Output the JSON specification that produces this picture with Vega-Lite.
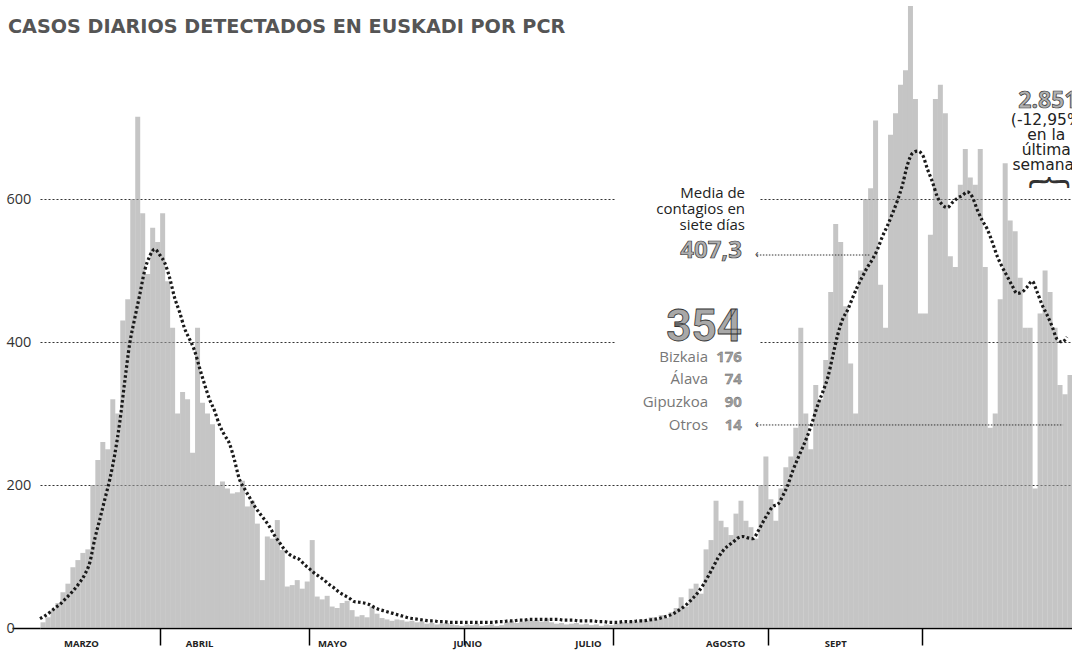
{
  "$schema": "https://vega.github.io/schema/vega-lite/v6.json",
  "width": 1032,
  "height": 622,
  "autosize": {"type": "none"},
  "padding": {"left": 40, "top": 6, "right": 0, "bottom": 24},
  "background": "white",
  "config": {"view": {"stroke": null}},
  "title": {
    "text": "CASOS DIARIOS DETECTADOS EN EUSKADI POR PCR",
    "anchor": "start",
    "frame": "group",
    "orient": "top",
    "offset": 0,
    "dx": -32,
    "dy": 46,
    "baseline": "alphabetic",
    "font": "DejaVu Sans",
    "fontSize": 19.2,
    "fontWeight": "bold",
    "color": "#555555"
  },
  "data": {
    "values": [
      {"fecha": "2020-03-08", "casos": 8, "media": 13},
      {"fecha": "2020-03-09", "casos": 15, "media": 17},
      {"fecha": "2020-03-10", "casos": 25, "media": 22},
      {"fecha": "2020-03-11", "casos": 35, "media": 28},
      {"fecha": "2020-03-12", "casos": 50, "media": 33},
      {"fecha": "2020-03-13", "casos": 62, "media": 40},
      {"fecha": "2020-03-14", "casos": 85, "media": 47},
      {"fecha": "2020-03-15", "casos": 95, "media": 55},
      {"fecha": "2020-03-16", "casos": 105, "media": 64},
      {"fecha": "2020-03-17", "casos": 110, "media": 75},
      {"fecha": "2020-03-18", "casos": 200, "media": 92},
      {"fecha": "2020-03-19", "casos": 235, "media": 125},
      {"fecha": "2020-03-20", "casos": 260, "media": 152},
      {"fecha": "2020-03-21", "casos": 250, "media": 180},
      {"fecha": "2020-03-22", "casos": 320, "media": 208},
      {"fecha": "2020-03-23", "casos": 300, "media": 243},
      {"fecha": "2020-03-24", "casos": 430, "media": 288},
      {"fecha": "2020-03-25", "casos": 460, "media": 345},
      {"fecha": "2020-03-26", "casos": 600, "media": 398},
      {"fecha": "2020-03-27", "casos": 715, "media": 433},
      {"fecha": "2020-03-28", "casos": 580, "media": 466},
      {"fecha": "2020-03-29", "casos": 495, "media": 500},
      {"fecha": "2020-03-30", "casos": 560, "media": 520},
      {"fecha": "2020-03-31", "casos": 540, "media": 530},
      {"fecha": "2020-04-01", "casos": 580, "media": 522},
      {"fecha": "2020-04-02", "casos": 485, "media": 511},
      {"fecha": "2020-04-03", "casos": 420, "media": 490},
      {"fecha": "2020-04-04", "casos": 300, "media": 462},
      {"fecha": "2020-04-05", "casos": 330, "media": 442},
      {"fecha": "2020-04-06", "casos": 320, "media": 419},
      {"fecha": "2020-04-07", "casos": 245, "media": 404},
      {"fecha": "2020-04-08", "casos": 420, "media": 388},
      {"fecha": "2020-04-09", "casos": 315, "media": 364},
      {"fecha": "2020-04-10", "casos": 300, "media": 341},
      {"fecha": "2020-04-11", "casos": 285, "media": 320},
      {"fecha": "2020-04-12", "casos": 200, "media": 304},
      {"fecha": "2020-04-13", "casos": 205, "media": 284},
      {"fecha": "2020-04-14", "casos": 195, "media": 270},
      {"fecha": "2020-04-15", "casos": 188, "media": 258},
      {"fecha": "2020-04-16", "casos": 190, "media": 235},
      {"fecha": "2020-04-17", "casos": 206, "media": 208},
      {"fecha": "2020-04-18", "casos": 170, "media": 195},
      {"fecha": "2020-04-19", "casos": 178, "media": 183},
      {"fecha": "2020-04-20", "casos": 146, "media": 171},
      {"fecha": "2020-04-21", "casos": 67, "media": 161},
      {"fecha": "2020-04-22", "casos": 128, "media": 152},
      {"fecha": "2020-04-23", "casos": 125, "media": 142},
      {"fecha": "2020-04-24", "casos": 151, "media": 130},
      {"fecha": "2020-04-25", "casos": 109, "media": 120},
      {"fecha": "2020-04-26", "casos": 58, "media": 110},
      {"fecha": "2020-04-27", "casos": 60, "media": 103},
      {"fecha": "2020-04-28", "casos": 67, "media": 99},
      {"fecha": "2020-04-29", "casos": 55, "media": 96},
      {"fecha": "2020-04-30", "casos": 65, "media": 89},
      {"fecha": "2020-05-01", "casos": 123, "media": 83},
      {"fecha": "2020-05-02", "casos": 44, "media": 77},
      {"fecha": "2020-05-03", "casos": 40, "media": 72},
      {"fecha": "2020-05-04", "casos": 45, "media": 67},
      {"fecha": "2020-05-05", "casos": 30, "media": 61},
      {"fecha": "2020-05-06", "casos": 28, "media": 56},
      {"fecha": "2020-05-07", "casos": 35, "media": 50},
      {"fecha": "2020-05-08", "casos": 38, "media": 46},
      {"fecha": "2020-05-09", "casos": 25, "media": 42},
      {"fecha": "2020-05-10", "casos": 16, "media": 37},
      {"fecha": "2020-05-11", "casos": 18, "media": 36},
      {"fecha": "2020-05-12", "casos": 15, "media": 35},
      {"fecha": "2020-05-13", "casos": 30, "media": 33},
      {"fecha": "2020-05-14", "casos": 20, "media": 29},
      {"fecha": "2020-05-15", "casos": 14, "media": 26},
      {"fecha": "2020-05-16", "casos": 12, "media": 24},
      {"fecha": "2020-05-17", "casos": 10, "media": 22},
      {"fecha": "2020-05-18", "casos": 12, "media": 20},
      {"fecha": "2020-05-19", "casos": 11, "media": 18},
      {"fecha": "2020-05-20", "casos": 9, "media": 16},
      {"fecha": "2020-05-21", "casos": 10, "media": 14},
      {"fecha": "2020-05-22", "casos": 8, "media": 13},
      {"fecha": "2020-05-23", "casos": 9, "media": 12},
      {"fecha": "2020-05-24", "casos": 6, "media": 11},
      {"fecha": "2020-05-25", "casos": 7, "media": 10},
      {"fecha": "2020-05-26", "casos": 5, "media": 10},
      {"fecha": "2020-05-27", "casos": 6, "media": 9},
      {"fecha": "2020-05-28", "casos": 7, "media": 9},
      {"fecha": "2020-05-29", "casos": 5, "media": 8},
      {"fecha": "2020-05-30", "casos": 4, "media": 8},
      {"fecha": "2020-05-31", "casos": 3, "media": 8},
      {"fecha": "2020-06-01", "casos": 5, "media": 8},
      {"fecha": "2020-06-02", "casos": 4, "media": 8},
      {"fecha": "2020-06-03", "casos": 6, "media": 8},
      {"fecha": "2020-06-04", "casos": 3, "media": 8},
      {"fecha": "2020-06-05", "casos": 4, "media": 8},
      {"fecha": "2020-06-06", "casos": 5, "media": 8},
      {"fecha": "2020-06-07", "casos": 3, "media": 8},
      {"fecha": "2020-06-08", "casos": 4, "media": 9},
      {"fecha": "2020-06-09", "casos": 8, "media": 9},
      {"fecha": "2020-06-10", "casos": 10, "media": 10},
      {"fecha": "2020-06-11", "casos": 7, "media": 10},
      {"fecha": "2020-06-12", "casos": 9, "media": 11},
      {"fecha": "2020-06-13", "casos": 12, "media": 11},
      {"fecha": "2020-06-14", "casos": 10, "media": 12},
      {"fecha": "2020-06-15", "casos": 11, "media": 12},
      {"fecha": "2020-06-16", "casos": 9, "media": 12},
      {"fecha": "2020-06-17", "casos": 13, "media": 12},
      {"fecha": "2020-06-18", "casos": 8, "media": 12},
      {"fecha": "2020-06-19", "casos": 6, "media": 12},
      {"fecha": "2020-06-20", "casos": 7, "media": 12},
      {"fecha": "2020-06-21", "casos": 5, "media": 11},
      {"fecha": "2020-06-22", "casos": 6, "media": 11},
      {"fecha": "2020-06-23", "casos": 7, "media": 11},
      {"fecha": "2020-06-24", "casos": 5, "media": 10},
      {"fecha": "2020-06-25", "casos": 6, "media": 10},
      {"fecha": "2020-06-26", "casos": 4, "media": 10},
      {"fecha": "2020-06-27", "casos": 5, "media": 10},
      {"fecha": "2020-06-28", "casos": 3, "media": 9},
      {"fecha": "2020-06-29", "casos": 5, "media": 9},
      {"fecha": "2020-06-30", "casos": 4, "media": 8},
      {"fecha": "2020-07-01", "casos": 6, "media": 8},
      {"fecha": "2020-07-02", "casos": 8, "media": 8},
      {"fecha": "2020-07-03", "casos": 7, "media": 9},
      {"fecha": "2020-07-04", "casos": 10, "media": 9},
      {"fecha": "2020-07-05", "casos": 8, "media": 9},
      {"fecha": "2020-07-06", "casos": 12, "media": 10},
      {"fecha": "2020-07-07", "casos": 10, "media": 10},
      {"fecha": "2020-07-08", "casos": 15, "media": 11},
      {"fecha": "2020-07-09", "casos": 12, "media": 12},
      {"fecha": "2020-07-10", "casos": 18, "media": 13},
      {"fecha": "2020-07-11", "casos": 14, "media": 15},
      {"fecha": "2020-07-12", "casos": 22, "media": 17},
      {"fecha": "2020-07-13", "casos": 28, "media": 20},
      {"fecha": "2020-07-14", "casos": 43, "media": 24},
      {"fecha": "2020-07-15", "casos": 30, "media": 29},
      {"fecha": "2020-07-16", "casos": 55, "media": 35},
      {"fecha": "2020-07-17", "casos": 62, "media": 42},
      {"fecha": "2020-07-18", "casos": 48, "media": 50},
      {"fecha": "2020-07-19", "casos": 110, "media": 60},
      {"fecha": "2020-07-20", "casos": 123, "media": 72},
      {"fecha": "2020-07-21", "casos": 178, "media": 85},
      {"fecha": "2020-07-22", "casos": 150, "media": 98},
      {"fecha": "2020-07-23", "casos": 141, "media": 108},
      {"fecha": "2020-07-24", "casos": 130, "media": 115},
      {"fecha": "2020-07-25", "casos": 160, "media": 120},
      {"fecha": "2020-07-26", "casos": 178, "media": 126},
      {"fecha": "2020-07-27", "casos": 150, "media": 128},
      {"fecha": "2020-07-28", "casos": 141, "media": 126},
      {"fecha": "2020-07-29", "casos": 125, "media": 125},
      {"fecha": "2020-07-30", "casos": 200, "media": 135},
      {"fecha": "2020-07-31", "casos": 240, "media": 148},
      {"fecha": "2020-08-01", "casos": 180, "media": 160},
      {"fecha": "2020-08-02", "casos": 150, "media": 170},
      {"fecha": "2020-08-03", "casos": 195, "media": 173},
      {"fecha": "2020-08-04", "casos": 225, "media": 185},
      {"fecha": "2020-08-05", "casos": 240, "media": 200},
      {"fecha": "2020-08-06", "casos": 280, "media": 220},
      {"fecha": "2020-08-07", "casos": 420, "media": 237},
      {"fecha": "2020-08-08", "casos": 300, "media": 253},
      {"fecha": "2020-08-09", "casos": 250, "media": 270},
      {"fecha": "2020-08-10", "casos": 340, "media": 290},
      {"fecha": "2020-08-11", "casos": 320, "media": 312},
      {"fecha": "2020-08-12", "casos": 375, "media": 330},
      {"fecha": "2020-08-13", "casos": 470, "media": 350},
      {"fecha": "2020-08-14", "casos": 565, "media": 380},
      {"fecha": "2020-08-15", "casos": 540, "media": 410},
      {"fecha": "2020-08-16", "casos": 450, "media": 432},
      {"fecha": "2020-08-17", "casos": 370, "media": 445},
      {"fecha": "2020-08-18", "casos": 300, "media": 462},
      {"fecha": "2020-08-19", "casos": 500, "media": 478},
      {"fecha": "2020-08-20", "casos": 600, "media": 492},
      {"fecha": "2020-08-21", "casos": 615, "media": 505},
      {"fecha": "2020-08-22", "casos": 710, "media": 516},
      {"fecha": "2020-08-23", "casos": 480, "media": 530},
      {"fecha": "2020-08-24", "casos": 420, "media": 548},
      {"fecha": "2020-08-25", "casos": 690, "media": 563},
      {"fecha": "2020-08-26", "casos": 720, "media": 580},
      {"fecha": "2020-08-27", "casos": 760, "media": 598},
      {"fecha": "2020-08-28", "casos": 780, "media": 620},
      {"fecha": "2020-08-29", "casos": 870, "media": 648},
      {"fecha": "2020-08-30", "casos": 740, "media": 664},
      {"fecha": "2020-08-31", "casos": 440, "media": 667},
      {"fecha": "2020-09-01", "casos": 440, "media": 662},
      {"fecha": "2020-09-02", "casos": 550, "media": 642},
      {"fecha": "2020-09-03", "casos": 740, "media": 624},
      {"fecha": "2020-09-04", "casos": 760, "media": 603},
      {"fecha": "2020-09-05", "casos": 720, "media": 592},
      {"fecha": "2020-09-06", "casos": 520, "media": 588},
      {"fecha": "2020-09-07", "casos": 505, "media": 595},
      {"fecha": "2020-09-08", "casos": 620, "media": 601},
      {"fecha": "2020-09-09", "casos": 670, "media": 605},
      {"fecha": "2020-09-10", "casos": 630, "media": 610},
      {"fecha": "2020-09-11", "casos": 620, "media": 603},
      {"fecha": "2020-09-12", "casos": 670, "media": 585},
      {"fecha": "2020-09-13", "casos": 505, "media": 570},
      {"fecha": "2020-09-14", "casos": 280, "media": 558},
      {"fecha": "2020-09-15", "casos": 300, "media": 540},
      {"fecha": "2020-09-16", "casos": 460, "media": 520},
      {"fecha": "2020-09-17", "casos": 650, "media": 505},
      {"fecha": "2020-09-18", "casos": 570, "media": 492},
      {"fecha": "2020-09-19", "casos": 555, "media": 479},
      {"fecha": "2020-09-20", "casos": 490, "media": 468},
      {"fecha": "2020-09-21", "casos": 420, "media": 470},
      {"fecha": "2020-09-22", "casos": 420, "media": 477},
      {"fecha": "2020-09-23", "casos": 195, "media": 485},
      {"fecha": "2020-09-24", "casos": 440, "media": 470},
      {"fecha": "2020-09-25", "casos": 500, "media": 452},
      {"fecha": "2020-09-26", "casos": 470, "media": 438},
      {"fecha": "2020-09-27", "casos": 420, "media": 422},
      {"fecha": "2020-09-28", "casos": 340, "media": 404},
      {"fecha": "2020-09-29", "casos": 327, "media": 400},
      {"fecha": "2020-09-30", "casos": 354, "media": 407}
    ]
  },
  "layer": [
    {
      "mark": {"type": "bar", "fill": "#9e9e9e", "fillOpacity": 0.6, "binSpacing": 0},
      "encoding": {
        "x": {
          "field": "fecha",
          "timeUnit": "utcyearmonthdate",
          "type": "temporal",
          "title": null,
          "scale": {
            "type": "utc",
            "domain": [
              {"year": 2020, "month": 3, "date": 8, "utc": true},
              {"year": 2020, "month": 10, "date": 1, "utc": true}
            ]
          },
          "axis": {
            "values": [
              {"year": 2020, "month": 3, "date": 16, "hours": 5, "utc": true},
              {"year": 2020, "month": 4, "date": 1, "utc": true},
              {"year": 2020, "month": 4, "date": 8, "hours": 22, "utc": true},
              {"year": 2020, "month": 5, "date": 1, "utc": true},
              {"year": 2020, "month": 5, "date": 5, "hours": 14, "utc": true},
              {"year": 2020, "month": 6, "date": 1, "utc": true},
              {"year": 2020, "month": 6, "date": 1, "hours": 17, "utc": true},
              {"year": 2020, "month": 6, "date": 25, "hours": 22, "utc": true},
              {"year": 2020, "month": 7, "date": 1, "utc": true},
              {"year": 2020, "month": 7, "date": 23, "hours": 10, "utc": true},
              {"year": 2020, "month": 8, "date": 1, "utc": true},
              {"year": 2020, "month": 8, "date": 14, "hours": 12, "utc": true},
              {"year": 2020, "month": 9, "date": 1, "utc": true}
            ],
            "labelExpr": "utcdate(datum.value) == 1 && utchours(datum.value) == 0 ? '' : (utcmonth(datum.value) == 5 && utcdate(datum.value) > 20 ? 'JULIO' : ['', '', 'MARZO', 'ABRIL', 'MAYO', 'JUNIO', 'AGOSTO', 'SEPT'][utcmonth(datum.value)])",
            "tickColor": {"condition": {"test": "utcdate(datum.value) == 1 && utchours(datum.value) == 0", "value": "#000000"}, "value": "transparent"},
            "tickSize": 17,
            "tickWidth": 1.5,
            "domainColor": "#000000",
            "domainWidth": 1.5,
            "labelPadding": -7,
            "labelFont": "Open Sans",
            "labelFontSize": 9.5,
            "labelFontWeight": "bold",
            "labelColor": "#222222",
            "labelOverlap": false,
            "labelFlush": false,
            "labelAlign": "center",
            "grid": false
          }
        },
        "y": {
          "field": "casos",
          "type": "quantitative",
          "title": null,
          "scale": {"domain": [0, 870], "nice": false},
          "axis": {
            "values": [0, 200, 400, 600],
            "domain": false,
            "grid": true,
            "gridDash": [2, 2],
            "gridColor": "#333333",
            "gridWidth": 1,
            "tickSize": 28,
            "tickWidth": 1.5,
            "tickColor": {"condition": {"test": "datum.value === 0", "value": "#000000"}, "value": "transparent"},
            "labelAlign": "left",
            "labelPadding": 6,
            "labelFont": "Open Sans",
            "labelFontSize": 14.5,
            "labelColor": "#333333"
          }
        }
      }
    },
    {
      "transform": [{"filter": "datum.fecha == '2020-09-30'"}],
      "mark": {"type": "bar", "fill": "#7d7d7d", "binSpacing": 0},
      "encoding": {
        "x": {"field": "fecha", "timeUnit": "utcyearmonthdate", "type": "temporal", "title": null},
        "y": {"field": "casos", "type": "quantitative", "title": null}
      }
    },
    {
      "data": {"values": [{}]},
      "mark": {"type": "rect", "fill": "white"},
      "encoding": {
        "x": {"datum": {"year": 2020, "month": 7, "date": 1, "hours": 10, "utc": true}, "type": "temporal", "title": null},
        "x2": {"datum": {"year": 2020, "month": 7, "date": 30, "hours": 6, "utc": true}},
        "y": {"datum": 270, "type": "quantitative", "title": null},
        "y2": {"datum": 640}
      }
    },
    {
      "data": {"values": [{}]},
      "mark": {"type": "rule", "stroke": "#333333", "strokeWidth": 1, "strokeDash": [1.5, 1.5]},
      "encoding": {
        "x": {"datum": {"year": 2020, "month": 7, "date": 29, "hours": 19, "utc": true}, "type": "temporal", "title": null},
        "x2": {"datum": {"year": 2020, "month": 8, "date": 21, "hours": 12, "utc": true}},
        "y": {"datum": 521.7, "type": "quantitative", "title": null}
      }
    },
    {
      "data": {"values": [{}]},
      "mark": {"type": "rule", "stroke": "#333333", "strokeWidth": 1, "strokeDash": [1.5, 1.5]},
      "encoding": {
        "x": {"datum": {"year": 2020, "month": 7, "date": 29, "hours": 19, "utc": true}, "type": "temporal", "title": null},
        "x2": {"datum": {"year": 2020, "month": 9, "date": 29, "hours": 5, "utc": true}},
        "y": {"datum": 284, "type": "quantitative", "title": null}
      }
    },
    {
      "mark": {"type": "line", "stroke": "#1a1a1a", "strokeWidth": 3.2, "strokeDash": [2.6, 2.4], "timeUnitBandPosition": 0.5, "interpolate": "monotone"},
      "encoding": {
        "x": {"field": "fecha", "timeUnit": "utcyearmonthdate", "type": "temporal", "title": null},
        "y": {"field": "media", "type": "quantitative", "title": null}
      }
    },
    {
      "data": {"values": [{}]},
      "mark": {"type": "text", "text": ["Media de", "contagios en", "siete días"], "align": "right", "baseline": "top", "lineHeight": 16, "font": "Open Sans", "fontSize": 15, "fill": "#222222"},
      "encoding": {
        "x": {"datum": {"year": 2020, "month": 7, "date": 27, "hours": 10, "utc": true}, "type": "temporal", "title": null},
        "y": {"datum": 618, "type": "quantitative", "title": null}
      }
    },
    {
      "data": {"values": [{}]},
      "mark": {"type": "text", "text": "407,3", "align": "right", "baseline": "alphabetic", "font": "Open Sans", "fontSize": 24, "fontWeight": "bold", "fill": "#b0b0b0", "stroke": "#333333", "strokeWidth": 0.7},
      "encoding": {
        "x": {"datum": {"year": 2020, "month": 7, "date": 26, "hours": 19, "utc": true}, "type": "temporal", "title": null},
        "y": {"datum": 517.6, "type": "quantitative", "title": null}
      }
    },
    {
      "data": {"values": [{}]},
      "mark": {"type": "text", "text": "‹", "align": "left", "baseline": "middle", "font": "Open Sans", "fontSize": 12, "fill": "#333333"},
      "encoding": {
        "x": {"datum": {"year": 2020, "month": 7, "date": 29, "hours": 10, "utc": true}, "type": "temporal", "title": null},
        "y": {"datum": 522.5, "type": "quantitative", "title": null}
      }
    },
    {
      "data": {"values": [{}]},
      "mark": {"type": "text", "text": "354", "align": "right", "baseline": "alphabetic", "font": "Roboto", "fontSize": 44, "fontWeight": "bold", "fill": "#a8a8a8", "stroke": "#333333", "strokeWidth": 0.8},
      "encoding": {
        "x": {"datum": {"year": 2020, "month": 7, "date": 26, "hours": 19, "utc": true}, "type": "temporal", "title": null},
        "y": {"datum": 401.5, "type": "quantitative", "title": null}
      }
    },
    {
      "data": {"values": [{}]},
      "mark": {"type": "text", "text": ["Bizkaia", "Álava", "Gipuzkoa", "Otros"], "align": "right", "baseline": "top", "lineHeight": 22.7, "font": "Open Sans", "fontSize": 15, "fill": "#777777"},
      "encoding": {
        "x": {"datum": {"year": 2020, "month": 7, "date": 20, "utc": true}, "type": "temporal", "title": null},
        "y": {"datum": 389.5, "type": "quantitative", "title": null}
      }
    },
    {
      "data": {"values": [{}]},
      "mark": {"type": "text", "text": ["176", "74", "90", "14"], "align": "right", "baseline": "top", "lineHeight": 22.7, "font": "Open Sans", "fontSize": 15, "fontWeight": "bold", "fill": "#a0a0a0", "stroke": "#555555", "strokeWidth": 0.3},
      "encoding": {
        "x": {"datum": {"year": 2020, "month": 7, "date": 26, "hours": 19, "utc": true}, "type": "temporal", "title": null},
        "y": {"datum": 389.5, "type": "quantitative", "title": null}
      }
    },
    {
      "data": {"values": [{}]},
      "mark": {"type": "text", "text": "‹", "align": "left", "baseline": "middle", "font": "Open Sans", "fontSize": 12, "fill": "#333333"},
      "encoding": {
        "x": {"datum": {"year": 2020, "month": 7, "date": 29, "hours": 10, "utc": true}, "type": "temporal", "title": null},
        "y": {"datum": 284.8, "type": "quantitative", "title": null}
      }
    },
    {
      "data": {"values": [{}]},
      "mark": {"type": "text", "text": "2.851", "align": "center", "baseline": "alphabetic", "font": "Open Sans", "fontSize": 23, "fontWeight": "bold", "fill": "#b0b0b0", "stroke": "#333333", "strokeWidth": 0.7},
      "encoding": {
        "x": {"datum": {"year": 2020, "month": 9, "date": 26, "hours": 4, "utc": true}, "type": "temporal", "title": null},
        "y": {"datum": 727.4, "type": "quantitative", "title": null}
      }
    },
    {
      "data": {"values": [{}]},
      "mark": {"type": "text", "text": ["(-12,95%", "en la", "última", "semana)"], "align": "center", "baseline": "top", "lineHeight": 15, "font": "DejaVu Sans", "fontSize": 15.5, "fill": "#222222"},
      "encoding": {
        "x": {"datum": {"year": 2020, "month": 9, "date": 25, "hours": 20, "utc": true}, "type": "temporal", "title": null},
        "y": {"datum": 720, "type": "quantitative", "title": null}
      }
    },
    {
      "data": {"values": [{}]},
      "mark": {"type": "text", "text": "︷", "align": "center", "baseline": "middle", "font": "Noto Sans CJK JP", "fontSize": 42, "fill": "#333333"},
      "encoding": {
        "x": {"datum": {"year": 2020, "month": 9, "date": 26, "hours": 10, "utc": true}, "type": "temporal", "title": null},
        "y": {"datum": 639, "type": "quantitative", "title": null}
      }
    }
  ]
}
